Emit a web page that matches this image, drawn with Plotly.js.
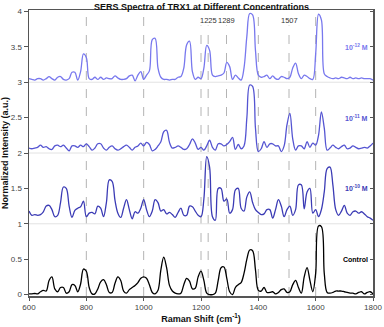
<!DOCTYPE html>
<html>
<head>
<meta charset="utf-8">
<script src="https://cdn.plot.ly/plotly-3.0.1.min.js"></script>
<style>
    body { margin: 0; background: #fff; }
</style>
</head>
<body>
<div id="sers_graph" style="width:384px;height:327px;"></div>
<script>

/**
 * Colors
 */
const black = "#000000";     // Control
const blue10 = "#3B3BB5";    // 10^-10 M
const blue11 = "#5555D2";    // 10^-11 M
const blue12 = "#7878EE";    // 10^-12 M
const axisColor = "#555";
const tickFontColor = "#444";
const dashColor = "#B4B4B4";
const baseColor = "#E2E2E2";

/**
 * Raman shift axis (cm-1), every 10 from 600 to 1800
 */
const raman_shift = [];
for (let s = 600; s <= 1800; s += 10) raman_shift.push(s);

/**
 * Intensities, before stacking
 */
const control = [0.01,0.01,0.015,0.01,0.04,0.06,0.05,0.2,0.25,0.08,
    0.04,0.1,0.1,0.02,0.04,0.14,0.13,0.04,0.15,0.36,
    0.33,0.1,0.01,0.01,0.08,0.18,0.21,0.14,0.03,0.03,
    0.16,0.25,0.2,0.05,0.02,0.07,0.1,0.13,0.17,0.23,
    0.25,0.23,0.14,0.03,0.01,0.06,0.35,0.53,0.38,0.13,
    0.05,0.02,0.01,0.02,0.14,0.23,0.19,0.08,0.09,0.25,
    0.33,0.2,0.02,0.0,0.0,0.02,0.2,0.38,0.39,0.23,
    0.04,0.0,0.1,0.14,0.17,0.3,0.5,0.63,0.62,0.35,
    0.06,0.05,0.1,0.03,0.03,0.04,0.01,0.03,0.07,0.08,
    0.03,0.04,0.14,0.2,0.1,0.02,0.25,0.38,0.2,0.04,
    0.3,0.97,0.96,0.3,0.03,0.02,0.03,0.05,0.05,0.05,
    0.04,0.03,0.02,0.02,0.01,0.03,0.04,0.01,0.03,0.04,
    0.01];

const conc_1e10 = [0.18,0.12,0.13,0.12,0.13,0.17,0.25,0.26,0.2,0.1,
    0.12,0.3,0.52,0.5,0.25,0.09,0.19,0.22,0.24,0.32,
    0.1,0.15,0.16,0.14,0.25,0.22,0.1,0.3,0.62,0.6,
    0.33,0.15,0.09,0.22,0.34,0.2,0.07,0.17,0.15,0.22,
    0.34,0.2,0.1,0.18,0.34,0.3,0.18,0.2,0.14,0.16,
    0.13,0.09,0.16,0.22,0.12,0.12,0.25,0.24,0.18,0.12,
    0.1,0.35,0.95,0.8,0.1,0.05,0.5,0.5,0.32,0.35,
    0.15,0.2,0.48,0.5,0.22,0.18,0.38,0.45,0.3,0.2,
    0.16,0.13,0.14,0.2,0.2,0.08,0.2,0.34,0.25,0.1,
    0.2,0.25,0.12,0.2,0.55,0.55,0.21,0.45,0.5,0.15,
    0.2,0.1,0.2,0.45,0.78,0.8,0.55,0.2,0.12,0.18,
    0.26,0.15,0.12,0.17,0.18,0.15,0.17,0.14,0.1,0.08,
    0.05];

const conc_1e11 = [0.07,0.06,0.07,0.08,0.11,0.08,0.09,0.06,0.05,0.1,
    0.11,0.09,0.11,0.07,0.03,0.1,0.1,0.08,0.11,0.09,
    0.13,0.09,0.04,0.07,0.13,0.13,0.07,0.04,0.08,0.1,
    0.06,0.04,0.06,0.09,0.11,0.08,0.04,0.08,0.1,0.14,
    0.1,0.15,0.12,0.03,0.05,0.1,0.16,0.3,0.32,0.15,
    0.07,0.08,0.1,0.08,0.05,0.06,0.12,0.2,0.14,0.05,
    0.08,0.04,0.1,0.18,0.08,0.04,0.13,0.13,0.1,0.12,
    0.16,0.22,0.05,0.12,0.06,0.1,0.5,0.96,0.94,0.35,
    0.02,0.06,0.16,0.08,0.13,0.13,0.1,0.1,0.02,0.1,
    0.4,0.56,0.2,0.04,0.1,0.1,0.06,0.16,0.08,0.14,
    0.11,0.25,0.58,0.35,0.04,0.07,0.11,0.08,0.06,0.09,
    0.11,0.06,0.07,0.1,0.08,0.06,0.07,0.08,0.07,0.1,
    0.14];

const conc_1e12 = [0.05,0.04,0.03,0.05,0.05,0.03,0.05,0.08,0.05,0.03,
    0.07,0.08,0.04,0.03,0.05,0.14,0.14,0.03,0.15,0.4,
    0.35,0.05,0.04,0.07,0.04,0.07,0.04,0.06,0.05,0.05,
    0.09,0.06,0.04,0.04,0.05,0.09,0.1,0.02,0.1,0.15,
    0.04,0.1,0.16,0.6,0.62,0.2,0.07,0.04,0.04,0.03,
    0.04,0.04,0.07,0.08,0.2,0.53,0.58,0.15,0.04,0.07,
    0.05,0.2,0.52,0.45,0.1,0.08,0.09,0.1,0.13,0.28,
    0.22,0.04,0.1,0.06,0.03,0.2,0.65,0.97,0.95,0.45,
    0.1,0.07,0.08,0.1,0.05,0.09,0.05,0.04,0.08,0.07,
    0.05,0.07,0.2,0.27,0.12,0.05,0.1,0.08,0.05,0.04,
    0.4,0.96,0.88,0.12,0.08,0.06,0.05,0.06,0.05,0.07,
    0.06,0.05,0.07,0.05,0.06,0.05,0.06,0.05,0.05,0.05,
    0.03];

/**
 * Series setup: names, vertical offsets, colors
 */
const series_values = [control, conc_1e10, conc_1e11, conc_1e12];
const series_labels = ["Control", "10<sup>-10</sup> M", "10<sup>-11</sup> M", "10<sup>-12</sup> M"];
const series_offsets = [0, 1, 2, 3];
const series_colors = [black, blue10, blue11, blue12];

/**
 * Marked band positions (dashed lines) and which ones get a label
 */
const band_positions = [800, 1000, 1200, 1225, 1289, 1400, 1507, 1600];
const band_labels = ["1225", "1289", "1507"];

const y_tick_vals = [0, 0.5, 1, 1.5, 2, 2.5, 3, 3.5, 4];
const y_tick_text = ["0", "0.5", "1", "1.5", "2", "2.5", "3", "3.5", "4"];
const x_tick_vals = [600, 800, 1000, 1200, 1400, 1600, 1800];


function spectraChart() {

    var data = [];
    for (let i = 0; i < series_values.length; i++) {
        data.push({
            x: raman_shift,
            y: series_values[i].map(v => v + series_offsets[i]),
            type: "scatter",
            mode: "lines",
            name: series_labels[i],
            line: {
                color: series_colors[i],
                width: 1.3,
                shape: "spline",
                smoothing: 1.0
            },
            hoverinfo: "x+y"
        });
    }

    var shapes = [];
    // dashed band lines
    band_positions.forEach(b => {
        shapes.push({
            type: "line", layer: "below",
            xref: "x", yref: "paper",
            x0: b, x1: b, y0: 0, y1: 1,
            line: {color: dashColor, width: 1, dash: "dash"}
        });
    });
    // baselines of stacked spectra
    series_offsets.slice(1).forEach(o => {
        shapes.push({
            type: "line", layer: "below",
            xref: "paper", yref: "y",
            x0: 0, x1: 1, y0: o, y1: o,
            line: {color: baseColor, width: 1}
        });
    });

    var annotations = [];
    band_labels.forEach(t => {
        annotations.push({
            x: Number(t), y: 3.87,
            xref: "x", yref: "y",
            text: t,
            showarrow: false,
            bgcolor: "#ffffff",
            borderpad: 0,
            font: {family: "Arial, Liberation Sans", size: 7.5, color: "#333"}
        });
    });
    for (let i = 0; i < series_labels.length; i++) {
        annotations.push({
            x: 0.99, y: series_offsets[i] + 0.5,
            xref: "paper", yref: "y",
            xanchor: "right",
            text: "<b>" + series_labels[i] + "</b>",
            showarrow: false,
            font: {family: "Arial, Liberation Sans", size: 7, color: series_colors[i]}
        });
    }

    var layout = {
        width: 384,
        height: 327,
        showlegend: false,
        paper_bgcolor: "#ffffff",
        plot_bgcolor: "#ffffff",
        font: {family: "Arial, Liberation Sans", color: tickFontColor},
        title: {
            text: "<b>SERS Spectra of TRX1 at Different Concentrations</b>",
            font: {size: 9, color: "#111"},
            x: 0.525,
            xanchor: "center",
            y: 0.978,
            yref: "container",
            yanchor: "middle"
        },
        xaxis: {
            range: [600, 1800],
            tickvals: x_tick_vals,
            ticks: "outside",
            ticklen: 3,
            tickcolor: axisColor,
            tickfont: {size: 8, color: tickFontColor},
            showgrid: false,
            zeroline: false,
            showline: true,
            linecolor: axisColor,
            linewidth: 1.5,
            mirror: true,
            title: {
                text: "<b>Raman Shift (cm<sup>-1</sup>)</b>",
                font: {size: 9, color: "#111"},
                standoff: 4
            },
            automargin: false
        },
        yaxis: {
            range: [-0.02, 4.02],
            tickvals: y_tick_vals,
            ticktext: y_tick_text,
            ticks: "outside",
            ticklen: 4,
            tickcolor: axisColor,
            tickfont: {size: 8, color: tickFontColor},
            showgrid: false,
            zeroline: false,
            showline: true,
            linecolor: axisColor,
            linewidth: 1.5,
            mirror: true,
            title: {
                text: "<b>Normalized Intensity (a.u.)</b>",
                font: {size: 9, color: "#111"},
                standoff: 3
            },
            automargin: false
        },
        yaxis2: {
            range: [-0.02, 4.02],
            overlaying: "y",
            side: "right",
            tickvals: y_tick_vals,
            showticklabels: false,
            ticks: "inside",
            ticklen: 3,
            tickcolor: axisColor,
            showgrid: false,
            zeroline: false,
            showline: false
        },
        shapes: shapes,
        annotations: annotations,
        margin: {l: 29, r: 11, t: 10, b: 31, pad: 0}
    };

    // invisible trace to bring the right axis ticks in
    data.push({x: [600], y: [0], yaxis: "y2", mode: "lines", showlegend: false, hoverinfo: "skip"});

    Plotly.newPlot("sers_graph", data, layout, {displayModeBar: false, staticPlot: true});
}

spectraChart();
</script>
</body>
</html>
